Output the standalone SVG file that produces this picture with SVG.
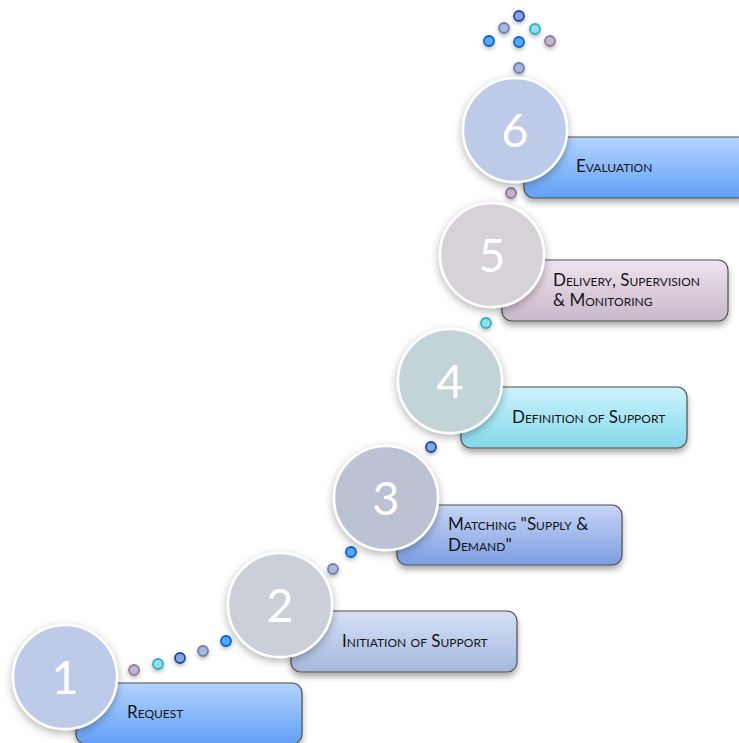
<svg xmlns="http://www.w3.org/2000/svg" width="739" height="743" viewBox="0 0 739 743">
<defs>
<linearGradient id="gBlue" x1="0" y1="0" x2="0" y2="1"><stop offset="0" stop-color="#b4d4fe"/><stop offset="1" stop-color="#62a0f6"/></linearGradient>
<linearGradient id="gLav" x1="0" y1="0" x2="0" y2="1"><stop offset="0" stop-color="#d6e0f3"/><stop offset="1" stop-color="#a5b8e0"/></linearGradient>
<linearGradient id="gPeri" x1="0" y1="0" x2="0" y2="1"><stop offset="0" stop-color="#c8d6f7"/><stop offset="1" stop-color="#7c9de1"/></linearGradient>
<linearGradient id="gCyan" x1="0" y1="0" x2="0" y2="1"><stop offset="0" stop-color="#cdf3fc"/><stop offset="1" stop-color="#84d8ea"/></linearGradient>
<linearGradient id="gMauve" x1="0" y1="0" x2="0" y2="1"><stop offset="0" stop-color="#eee4ef"/><stop offset="1" stop-color="#c9b7ca"/></linearGradient>
<filter id="sh" x="-20%" y="-20%" width="140%" height="150%"><feDropShadow dx="0" dy="4" stdDeviation="3" flood-color="#000" flood-opacity="0.35"/></filter>
<filter id="shc" x="-30%" y="-30%" width="160%" height="160%"><feDropShadow dx="0" dy="3" stdDeviation="4" flood-color="#000" flood-opacity="0.3"/></filter>
<filter id="shd" x="-80%" y="-80%" width="260%" height="260%"><feDropShadow dx="0" dy="2" stdDeviation="2" flood-color="#000" flood-opacity="0.3"/></filter>
</defs>
<style>
.box{stroke:#505050;stroke-width:1.2;filter:url(#sh)}
.circ{stroke:#ffffff;stroke-width:2.5;filter:url(#shc)}
.num{font-family:Lato,"Open Sans",sans-serif;font-size:47px;fill:#ffffff;text-anchor:middle}
.lbl{font-family:Lato,"Open Sans",sans-serif;font-size:17px;font-variant:small-caps;fill:#141414}
.dot{stroke-width:1.8;filter:url(#shd)}
.d-purple{fill:#c4b4cc;stroke:#8e7c9a}
.d-cyan{fill:#8fe0e8;stroke:#35aec0}
.d-navy{fill:#86a4e4;stroke:#1c4ca8}
.d-gray{fill:#a9b7d9;stroke:#6f80b0}
.d-blue{fill:#56a8fa;stroke:#0a62d4}
</style>
<rect width="739" height="743" fill="#ffffff"/>
<g id="connectors">
<circle class="dot d-purple" cx="134" cy="670" r="5"/>
<circle class="dot d-cyan" cx="158" cy="664" r="5"/>
<circle class="dot d-navy" cx="180" cy="658" r="5"/>
<circle class="dot d-gray" cx="203" cy="651" r="5"/>
<circle class="dot d-blue" cx="226" cy="641" r="5"/>
<circle class="dot d-gray" cx="333" cy="569" r="5"/>
<circle class="dot d-blue" cx="351" cy="552" r="5"/>
<circle class="dot d-navy" cx="431" cy="447" r="5"/>
<circle class="dot d-cyan" cx="486" cy="323" r="5"/>
<circle class="dot d-purple" cx="511" cy="193" r="5"/>
<circle class="dot d-gray" cx="519" cy="68" r="5"/>
<circle class="dot d-navy" cx="519" cy="16" r="5"/>
<circle class="dot d-gray" cx="504" cy="28" r="5"/>
<circle class="dot d-cyan" cx="535" cy="29" r="5"/>
<circle class="dot d-blue" cx="489" cy="41" r="5"/>
<circle class="dot d-blue" cx="519" cy="42" r="5"/>
<circle class="dot d-purple" cx="550" cy="41" r="5"/>
</g>
<g id="node6">
<rect class="box" x="524" y="137" width="240" height="61" rx="10" fill="url(#gBlue)"/>
<text class="lbl" x="576" y="172">Evaluation</text>
<circle class="circ" cx="515" cy="130" r="52" fill="#bdcbe8"/>
<text class="num" x="515" y="147">6</text>
</g>
<g id="node5">
<rect class="box" x="502" y="260" width="226" height="61" rx="10" fill="url(#gMauve)"/>
<text class="lbl" x="553" y="286">Delivery, Supervision</text>
<text class="lbl" x="553" y="306">&amp; Monitoring</text>
<circle class="circ" cx="492" cy="255" r="52" fill="#d7d1d8"/>
<text class="num" x="492" y="272">5</text>
</g>
<g id="node4">
<rect class="box" x="461" y="387" width="226" height="61" rx="10" fill="url(#gCyan)"/>
<text class="lbl" x="512" y="423">Definition of Support</text>
<circle class="circ" cx="450" cy="381" r="52" fill="#c3d4d8"/>
<text class="num" x="450" y="398">4</text>
</g>
<g id="node3">
<rect class="box" x="397" y="505" width="225" height="60" rx="10" fill="url(#gPeri)"/>
<text class="lbl" x="448" y="530">Matching "Supply &amp;</text>
<text class="lbl" x="448" y="551">Demand"</text>
<circle class="circ" cx="386" cy="498" r="52" fill="#bac2d3"/>
<text class="num" x="386" y="515">3</text>
</g>
<g id="node2">
<rect class="box" x="291" y="611" width="226" height="61" rx="10" fill="url(#gLav)"/>
<text class="lbl" x="342" y="647">Initiation of Support</text>
<circle class="circ" cx="280" cy="605" r="52" fill="#cacfd8"/>
<text class="num" x="280" y="622">2</text>
</g>
<g id="node1">
<rect class="box" x="76" y="683" width="226" height="61" rx="10" fill="url(#gBlue)"/>
<text class="lbl" x="127" y="718">Request</text>
<circle class="circ" cx="65" cy="677" r="52" fill="#bdcbe8"/>
<text class="num" x="65" y="694">1</text>
</g>
</svg>
